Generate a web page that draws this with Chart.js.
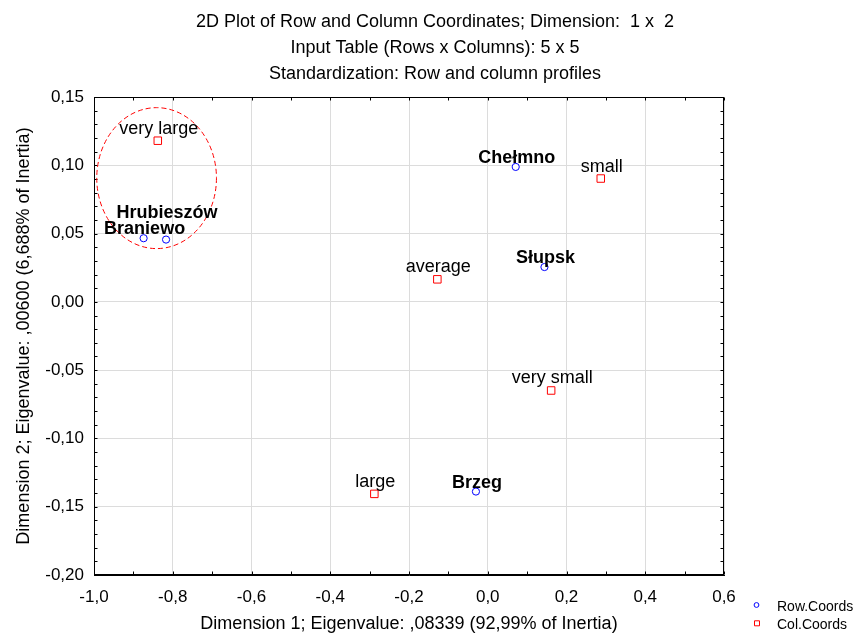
<!DOCTYPE html>
<html>
<head>
<meta charset="utf-8">
<script src="https://cdn.jsdelivr.net/npm/chart.js@4.4.0/dist/chart.umd.min.js"></script>
<style>
  html, body { margin: 0; padding: 0; background: #fff; }
  #wrap { width: 854px; height: 636px; }
</style>
</head>
<body>
<div id="wrap"><canvas id="chart"></canvas></div>
<script>
const titleLines = [
    '2D Plot of Row and Column Coordinates; Dimension:  1 x  2',
    'Input Table (Rows x Columns): 5 x 5',
    'Standardization: Row and column profiles'
];
const xTitle = 'Dimension 1; Eigenvalue: ,08339 (92,99% of Inertia)';
const yTitle = 'Dimension 2; Eigenvalue: ,00600 (6,688% of Inertia)';

const xRange = [-1.0, 0.6];
const yRange = [-0.20, 0.15];

// rows (towns)
const rowNames = ['Braniewo', 'Brzeg', 'Chełmno', 'Hrubieszów', 'Słupsk'];
const rowX = [-0.874, -0.030, 0.071, -0.817, 0.144];
const rowY = [0.0466, -0.1389, 0.0988, 0.0456, 0.0255];

// columns (size classes)
const colNames = ['very small', 'small', 'average', 'large', 'very large'];
const colX = [0.161, 0.287, -0.128, -0.288, -0.838];
const colY = [-0.0649, 0.0903, 0.0165, -0.1406, 0.118];

// dashed ring around the left group, in data units
const ringCenter = [-0.841, 0.0906];
const ringRadius = [0.152, 0.0516];

const fontFamily = "'Liberation Sans', Arial, sans-serif";
const comma = (v, d) => {
    if (Math.abs(v) < 1e-9) v = 0;
    return v.toFixed(d).replace('.', ',');
};

const toPoints = (xs, ys) => xs.map((x, i) => ({ x: x, y: ys[i] }));

const decorPlugin = {
    id: 'decor',
    beforeDatasetsDraw(chart) {
        const { ctx, chartArea: a, scales: { x, y } } = chart;
        ctx.save();
        // frame
        ctx.strokeStyle = '#000';
        ctx.lineWidth = 1;
        const l = Math.round(a.left) + 0.5, r = Math.round(a.right) - 0.5;
        const t = Math.round(a.top) + 0.5, b = Math.round(a.bottom) - 0.5;
        ctx.strokeRect(l, t, r - l, b - t);
        // inner ticks
        ctx.beginPath();
        for (let i = -10; i <= 6; i++) {
            const px = Math.round(x.getPixelForValue(i / 10)) + 0.5;
            ctx.moveTo(px, b); ctx.lineTo(px, b - 3);
            ctx.moveTo(px, t); ctx.lineTo(px, t + 3);
        }
        for (let i = -20; i <= 15; i++) {
            const py = Math.round(y.getPixelForValue(i / 100)) + 0.5;
            ctx.moveTo(l, py); ctx.lineTo(l + 3, py);
            ctx.moveTo(r, py); ctx.lineTo(r - 3, py);
        }
        ctx.stroke();
        // dashed ring
        const cx = x.getPixelForValue(ringCenter[0]);
        const cy = y.getPixelForValue(ringCenter[1]);
        const rx = x.getPixelForValue(ringCenter[0] + ringRadius[0]) - cx;
        const ry = cy - y.getPixelForValue(ringCenter[1] + ringRadius[1]);
        ctx.strokeStyle = '#ff0000';
        ctx.setLineDash([5, 3]);
        ctx.beginPath();
        ctx.ellipse(cx, cy, rx, ry, 0, 0, Math.PI * 2);
        ctx.stroke();
        ctx.restore();
    },
    afterDatasetsDraw(chart) {
        const { ctx } = chart;
        ctx.save();
        ctx.fillStyle = '#000';
        ctx.textAlign = 'center';
        ctx.textBaseline = 'alphabetic';
        chart.data.datasets.forEach((ds, i) => {
            const meta = chart.getDatasetMeta(i);
            meta.data.forEach((pt, j) => {
                const name = ds.names[j];
                let lift = ds.bold ? 4 : 7;
                if (name === 'Hrubieszów') lift = 22;
                ctx.font = (ds.bold ? 'bold ' : '') + '18px ' + fontFamily;
                ctx.fillText(name, pt.x + 1, pt.y - lift);
            });
        });
        ctx.restore();
    },
    afterDraw(chart) {
        const { ctx } = chart;
        ctx.save();
        ctx.fillStyle = '#000';
        ctx.textAlign = 'center';
        ctx.textBaseline = 'alphabetic';
        ctx.font = '18px ' + fontFamily;
        titleLines.forEach((line, i) => {
            ctx.fillText(line, 435, 26.7 + i * 26.3);
        });
        // legend
        ctx.textAlign = 'left';
        ctx.textBaseline = 'middle';
        ctx.font = '14px ' + fontFamily;
        chart.data.datasets.forEach((ds, i) => {
            const my = 605 + i * 18.3;
            ctx.strokeStyle = ds.borderColor;
            ctx.lineWidth = 1;
            ctx.beginPath();
            if (ds.pointStyle === 'circle') {
                ctx.arc(756.5, my, 2.4, 0, Math.PI * 2);
            } else {
                ctx.rect(754.5, my - 2.5, 5, 5);
            }
            ctx.stroke();
            ctx.fillText(ds.label, 777, my + 2);
        });
        ctx.restore();
    }
};

new Chart(document.getElementById('chart'), {
    type: 'scatter',
    data: {
        datasets: [{
            label: 'Row.Coords',
            names: rowNames,
            bold: true,
            data: toPoints(rowX, rowY),
            pointStyle: 'circle',
            pointRadius: 3.6,
            pointHoverRadius: 3.6,
            borderWidth: 1,
            borderColor: '#0000ff',
            backgroundColor: '#ffffff'
        }, {
            label: 'Col.Coords',
            names: colNames,
            bold: false,
            data: toPoints(colX, colY),
            pointStyle: 'rect',
            pointRadius: 5.3,
            pointHoverRadius: 5.3,
            borderWidth: 1,
            borderColor: '#ff0000',
            backgroundColor: '#ffffff'
        }]
    },
    options: {
        responsive: true,
        maintainAspectRatio: false,
        animation: false,
        events: [],
        layout: { padding: { top: 97, right: 130, bottom: 0, left: 0 } },
        plugins: {
            legend: { display: false },
            title: { display: false },
            tooltip: { enabled: false }
        },
        scales: {
            x: {
                type: 'linear',
                min: xRange[0],
                max: xRange[1],
                afterFit: (s) => { s.height = 61; },
                grid: { color: '#dcdcdc', drawTicks: false },
                border: { color: '#000' },
                ticks: {
                    stepSize: 0.2,
                    padding: 12,
                    color: '#000',
                    font: { family: fontFamily, size: 17 },
                    callback: (v) => comma(v, 1)
                },
                title: {
                    display: true,
                    text: xTitle,
                    color: '#000',
                    font: { family: fontFamily, size: 18 },
                    padding: { top: 0, bottom: 1 }
                }
            },
            y: {
                type: 'linear',
                min: yRange[0],
                max: yRange[1],
                afterFit: (s) => { s.width = 94; },
                grid: { color: '#dcdcdc', drawTicks: false },
                border: { color: '#000' },
                ticks: {
                    stepSize: 0.05,
                    padding: 10,
                    color: '#000',
                    font: { family: fontFamily, size: 17 },
                    callback: (v) => comma(v, 2)
                },
                title: {
                    display: true,
                    text: yTitle,
                    color: '#000',
                    font: { family: fontFamily, size: 18 },
                    padding: { top: 13, bottom: 0 }
                }
            }
        }
    },
    plugins: [decorPlugin]
});
</script>
</body>
</html>
